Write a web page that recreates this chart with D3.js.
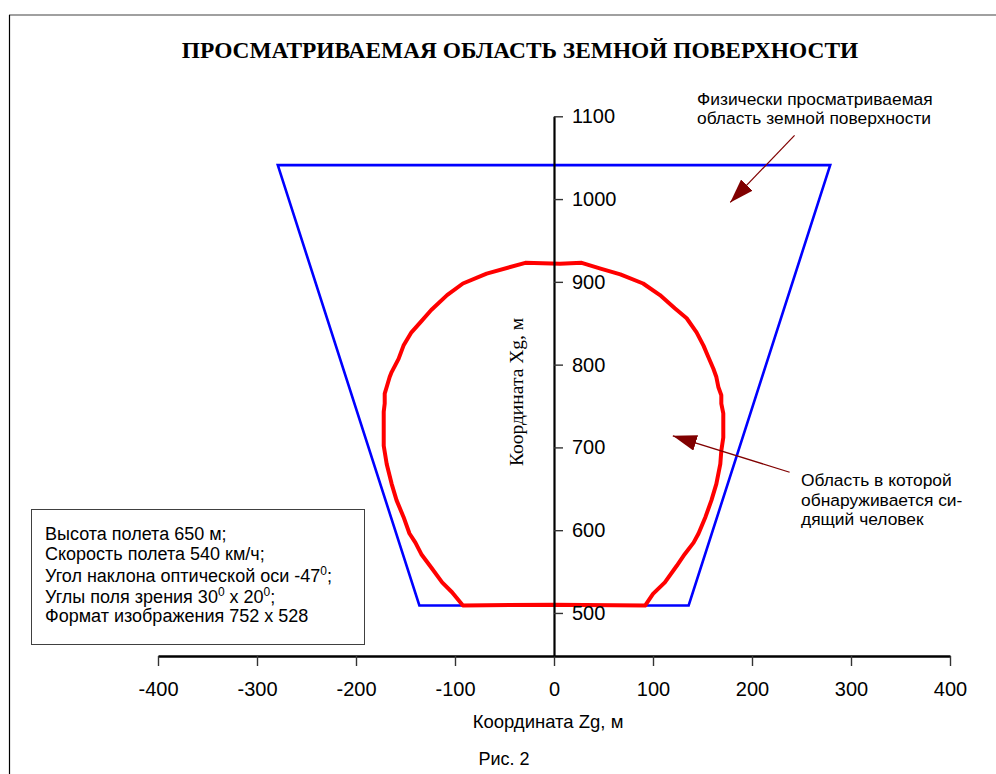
<!DOCTYPE html>
<html>
<head>
<meta charset="utf-8">
<script src="https://cdn.jsdelivr.net/npm/d3@7"></script>
<style>
  html, body { margin: 0; padding: 0; background: #fff; }
  svg { display: block; }
</style>
</head>
<body>
<svg id="chart" width="996" height="774"></svg>
<script>
// Axis ticks
const zTicks = [-400, -300, -200, -100, 0, 100, 200, 300, 400];
const xTicks = [500, 600, 700, 800, 900, 1000, 1100];

// Physically visible area (trapezoid), Zg / Xg in metres
const fieldZg = [-136, 136, 279, -279];
const fieldXg = [509, 509, 1041, 1041];

// Area where a seated person is detected
const detectZg = [
  0, 92, 100, 112, 124, 132, 141, 146, 153, 159, 164, 168, 169, 171, 171, 169, 169, 166, 164,
  161, 156, 151, 144, 134, 122, 107, 90, 67, 47, 28, 6, -29, -68, -92, -108, -124,
  -135, -144, -152, -157, -164, -166, -169, -171, -171, -172, -172, -172, -169, -164,
  -159, -152, -146, -140, -134, -124, -113, -103, -92, 0
];
const detectXg = [
  510, 509, 523, 537, 557, 571, 585, 596, 616, 636, 656, 680, 696, 712, 741, 753, 763, 773, 785,
  795, 809, 823, 839, 856, 868, 884, 898, 909, 916, 923, 922, 923, 910, 898, 884, 866,
  851, 839, 823, 807, 791, 785, 773, 765, 753, 743, 720, 702, 680, 656,
  636, 616, 596, 585, 571, 555, 537, 525, 509, 510
];

// Annotation text
const titleText = "ПРОСМАТРИВАЕМАЯ ОБЛАСТЬ ЗЕМНОЙ ПОВЕРХНОСТИ";
const noteField = ["Физически просматриваемая", "область земной поверхности"];
const noteDetect = ["Область в которой", "обнаруживается си-", "дящий человек"];
const params = [
  [["Высота полета 650 м;"]],
  [["Скорость полета 540 км/ч;"]],
  [["Угол наклона оптической оси -47"], ["0", true], [";"]],
  [["Углы поля зрения 30"], ["0", true], [" x 20"], ["0", true], [";"]],
  [["Формат изображения 752 x 528"]]
];

const svg = d3.select("#chart");
const sans = "'Liberation Sans', Arial, sans-serif";
const serif = "'Liberation Serif', 'Times New Roman', serif";

const x = d3.scaleLinear().domain([-400, 400]).range([158, 950]);
const y = d3.scaleLinear().domain([448, 1100]).range([656, 116.3]);

// Frame
svg.append("line").attr("x1", 9).attr("y1", 15).attr("x2", 996).attr("y2", 15)
  .attr("stroke", "#808080").attr("stroke-width", 1.5);
svg.append("line").attr("x1", 9.5).attr("y1", 15).attr("x2", 9.5).attr("y2", 774)
  .attr("stroke", "#000").attr("stroke-width", 1.2);

// Title
svg.append("text").attr("x", 520).attr("y", 58).attr("text-anchor", "middle")
  .attr("font-family", serif)
  .attr("font-weight", "bold").attr("font-size", 23.4)
  .text(titleText);

// Curves
const fieldPts = fieldZg.map((z, i) => [x(z), y(fieldXg[i])]);
svg.append("path")
  .attr("d", d3.line()(fieldPts) + "Z")
  .attr("fill", "none").attr("stroke", "#0000ff").attr("stroke-width", 2.6)
  .attr("stroke-linejoin", "miter");

const detectPts = detectZg.map((z, i) => [x(z), y(detectXg[i])]);
svg.append("path")
  .attr("d", d3.line()(detectPts))
  .attr("fill", "none").attr("stroke", "#ff0000").attr("stroke-width", 4)
  .attr("stroke-linejoin", "round");

// Axes
const fmt = d => String(d);
const xAxis = d3.axisBottom(x).tickValues(zTicks).tickFormat(fmt)
  .tickSize(10).tickSizeOuter(0).tickPadding(16);
const gx = svg.append("g").attr("transform", `translate(0,${y(448)})`).call(xAxis);
gx.select(".domain").attr("stroke-width", 2.6);
gx.selectAll(".tick line").attr("stroke", "#333").attr("stroke-width", 1.4);
gx.selectAll("text").attr("font-family", sans).attr("font-size", 20).attr("fill", "#000");

const yAxis = d3.axisRight(y).tickValues(xTicks).tickFormat(fmt)
  .tickSize(9).tickSizeOuter(0).tickPadding(9);
const gy = svg.append("g").attr("transform", `translate(${x(0)},0)`).call(yAxis);
gy.select(".domain").attr("stroke-width", 2.2);
gy.selectAll(".tick line").attr("stroke", "#333").attr("stroke-width", 1.4);
gy.selectAll("text").attr("font-family", sans).attr("font-size", 20).attr("fill", "#000");

// Axis titles
svg.append("text").attr("x", 548).attr("y", 728).attr("text-anchor", "middle")
  .attr("font-family", sans).attr("font-size", 18.5)
  .text("Координата Zg, м");
svg.append("text")
  .attr("transform", `translate(523,392) rotate(-90)`).attr("text-anchor", "middle")
  .attr("font-family", serif).attr("font-size", 19.5)
  .text("Координата Xg, м");
svg.append("text").attr("x", 504).attr("y", 765).attr("text-anchor", "middle")
  .attr("font-family", sans).attr("font-size", 18)
  .text("Рис. 2");

// Arrows
const defs = svg.append("defs");
defs.append("marker").attr("id", "head")
  .attr("viewBox", "0 0 24 16").attr("refX", 24).attr("refY", 8)
  .attr("markerWidth", 24).attr("markerHeight", 16)
  .attr("markerUnits", "userSpaceOnUse").attr("orient", "auto")
  .append("path").attr("d", "M0,0 L24,8 L0,16 Z").attr("fill", "#800000");

const arrows = [
  { from: [243, 1077], to: [178, 996] },
  { from: [238, 670], to: [120, 714] }
];
arrows.forEach(a => {
  svg.append("line")
    .attr("x1", x(a.from[0])).attr("y1", y(a.from[1]))
    .attr("x2", x(a.to[0])).attr("y2", y(a.to[1]))
    .attr("stroke", "#800000").attr("stroke-width", 1.2)
    .attr("marker-end", "url(#head)");
});

// Notes
const nf = svg.append("text").attr("font-family", sans).attr("font-size", 17.4);
noteField.forEach((t, i) => nf.append("tspan").attr("x", 697).attr("y", 104.5 + i * 19.5).text(t));
const nd = svg.append("text").attr("font-family", sans).attr("font-size", 17.4);
noteDetect.forEach((t, i) => nd.append("tspan").attr("x", 801).attr("y", 486 + i * 19.5).text(t));

// Parameter box
svg.append("rect").attr("x", 31.5).attr("y", 509.5).attr("width", 333).attr("height", 135)
  .attr("fill", "#fff").attr("stroke", "#404040").attr("stroke-width", 1);
const lineY = [540, 560, 582, 603, 622];
params.forEach((parts, i) => {
  const t = svg.append("text").attr("x", 45).attr("y", lineY[i])
    .attr("font-family", sans).attr("font-size", 18);
  parts.forEach(p => {
    const s = t.append("tspan").text(p[0]);
    if (p[1]) s.attr("baseline-shift", "super").attr("font-size", 12);
  });
});
</script>
</body>
</html>
